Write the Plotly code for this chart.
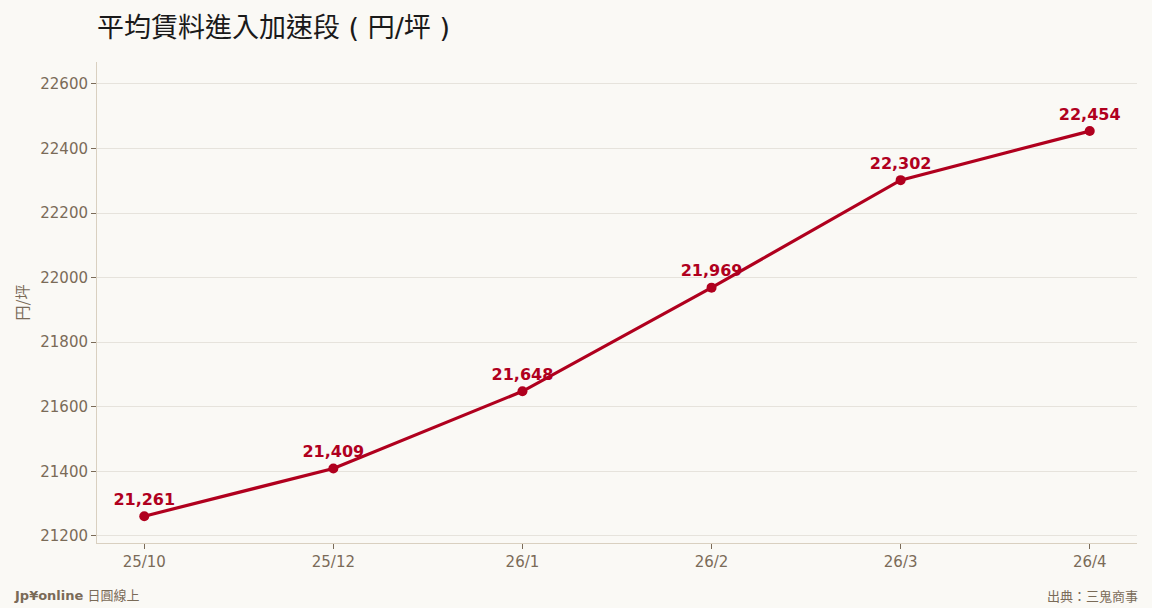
import plotly.graph_objects as go

# data
months = ["25/10", "25/12", "26/1", "26/2", "26/3", "26/4"]
rent = [21261, 21409, 21648, 21969, 22302, 22454]
labels = [f"{v:,}" for v in rent]

RED = "#b0001e"
TXT = "#7a6b58"
FONT = "DejaVu Sans, Noto Sans CJK TC, sans-serif"
CJK = "Noto Sans CJK TC, sans-serif"

fig = go.Figure()
fig.add_trace(go.Scatter(
    x=months, y=rent,
    mode="lines+markers+text",
    line=dict(color=RED, width=3.2),
    marker=dict(color=RED, size=10),
    text=labels,
    textposition="top center",
    textfont=dict(color=RED, size=16, family=FONT, weight="bold"),
    cliponaxis=False,
    showlegend=False,
))

fig.update_layout(
    width=1152, height=608,
    paper_bgcolor="#faf9f5",
    plot_bgcolor="#faf9f5",
    font=dict(family=FONT, color=TXT, size=15),
    margin=dict(l=97, r=15, t=62, b=65),
    title=dict(
        text="平均賃料進入加速段 ( 円/坪 )",
        font=dict(size=27, color="#1a1a1a", family="DejaVu Sans, Noto Sans CJK TC, sans-serif"),
        x=97 / 1152, xanchor="left", y=0.955, yanchor="middle",
    ),
    xaxis=dict(
        type="category", range=[-0.25, 5.25],
        showline=True, linecolor="#d9d0c0", linewidth=1,
        ticks="outside", tickcolor=TXT, ticklen=5,
        showgrid=False, tickfont=dict(size=15, color=TXT),
    ),
    yaxis=dict(
        range=[21178, 22668],
        dtick=200, tickformat="d",
        showline=True, linecolor="#d9d0c0", linewidth=1,
        ticks="outside", tickcolor=TXT, ticklen=5,
        gridcolor="#e6e3dc", zeroline=False,
        title=dict(text="円/坪", font=dict(size=15, color=TXT, family=CJK), standoff=8),
        tickfont=dict(size=15, color=TXT),
    ),
    annotations=[
        dict(text="<b>Jp¥online</b> 日圓線上", xref="paper", yref="paper",
             x=-85 / 1040, y=0, xanchor="left", yanchor="middle",
             yshift=-52, showarrow=False,
             font=dict(size=13, color=TXT, family=FONT)),
        dict(text="出典：三鬼商事", xref="paper", yref="paper",
             x=1 + 3 / 1040, y=0, xanchor="right", yanchor="middle",
             yshift=-52, showarrow=False,
             font=dict(size=13, color=TXT, family=CJK)),
    ],
)

fig.write_html("out.html", config={"displayModeBar": False},
               post_script="document.body.style.margin='0';")
